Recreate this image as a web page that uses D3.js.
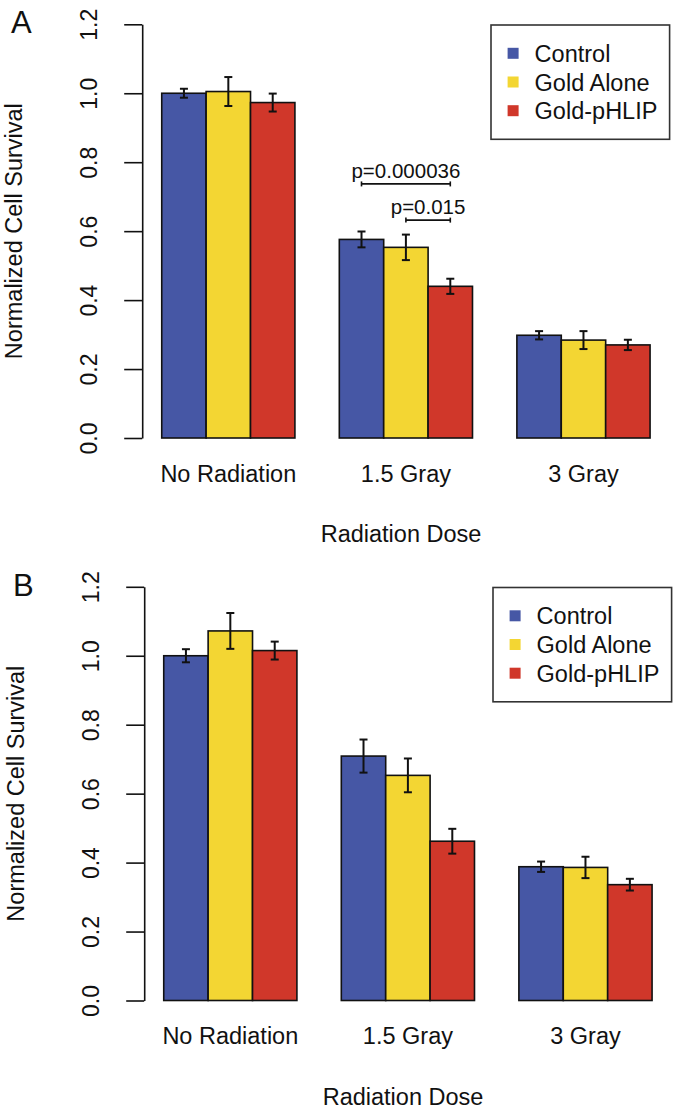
<!DOCTYPE html>
<html>
<head>
<meta charset="utf-8">
<script src="https://cdn.jsdelivr.net/npm/d3@7"></script>
<style>
  body { margin: 0; background: #fff; }
  svg text { font-family: "Liberation Sans", Arial, Helvetica, sans-serif; fill: #111; }
</style>
</head>
<body>
<div id="chart-area"></div>
<script>
// Data
const doses  = ["No Radiation", "1.5 Gray", "3 Gray"];
const series = ["Control", "Gold Alone", "Gold-pHLIP"];
const colors = ["#4657A5", "#F3D633", "#D0372A"];
const yTicks = [0.0, 0.2, 0.4, 0.6, 0.8, 1.0, 1.2];

// rows = dose, columns = series
const survivalA = [[1.000, 1.005, 0.973], [0.576, 0.553, 0.440], [0.298, 0.284, 0.270]];
const errorA    = [[0.013, 0.042, 0.026], [0.023, 0.037, 0.022], [0.012, 0.026, 0.015]];
const survivalB = [[1.000, 1.072, 1.015], [0.709, 0.653, 0.462], [0.388, 0.386, 0.336]];
const errorB    = [[0.019, 0.052, 0.026], [0.048, 0.049, 0.036], [0.015, 0.031, 0.017]];

// significance brackets (panel A only)
const bracketsA = [
    { dose: "1.5 Gray", from: 0, to: 2, y: 0.737, label: "p=0.000036" },
    { dose: "1.5 Gray", from: 1, to: 2, y: 0.632, label: "p=0.015" }
];

const svg = d3.select("#chart-area")
    .append("svg")
    .attr("width", 674)
    .attr("height", 1110);

/* Scales (shared by both panels) */
// bar units, R barplot style: groups of 3 bars with one bar of space in front
const xUnits = d3.scaleLinear().domain([0.56, 12.44]).range([142.2, 669.6]);
const x0 = d3.scaleBand()
    .domain(doses)
    .range([xUnits(1), xUnits(12)])
    .paddingInner(0.25)
    .paddingOuter(0);
const x1 = d3.scaleBand()
    .domain(d3.range(series.length))
    .range([0, x0.bandwidth()]);
const y = d3.scaleLinear().domain([0, 1.2]).range([438, 24.3]);

function drawPanel(letter, values, errors, brackets, dx, dy) {
    const g = svg.append("g").attr("transform", `translate(${dx},${dy})`);

    const rows = [];
    doses.forEach((d, i) => series.forEach((s, j) => {
        rows.push({ dose: d, s: j, v: values[i][j], e: errors[i][j] });
    }));

    /* Bars */
    g.append("g").selectAll("rect")
        .data(rows)
        .join("rect")
        .attr("x", d => x0(d.dose) + x1(d.s))
        .attr("y", d => y(d.v))
        .attr("width", x1.bandwidth())
        .attr("height", d => y(0) - y(d.v))
        .attr("fill", d => colors[d.s])
        .attr("stroke", "#111")
        .attr("stroke-width", 1.6);

    /* Error bars */
    const eb = g.append("g")
        .attr("stroke", "#111")
        .attr("stroke-width", 2)
        .selectAll("g")
        .data(rows)
        .join("g")
        .attr("transform", d => `translate(${x0(d.dose) + x1(d.s) + x1.bandwidth() / 2},0)`);
    eb.append("line")
        .attr("y1", d => y(d.v + d.e)).attr("y2", d => y(d.v - d.e));
    eb.append("line")
        .attr("x1", -4).attr("x2", 4)
        .attr("y1", d => y(d.v + d.e)).attr("y2", d => y(d.v + d.e));
    eb.append("line")
        .attr("x1", -4).attr("x2", 4)
        .attr("y1", d => y(d.v - d.e)).attr("y2", d => y(d.v - d.e));

    /* Y axis */
    const yAxis = g.append("g")
        .attr("transform", `translate(${xUnits.range()[0]},0)`)
        .call(d3.axisLeft(y).tickValues(yTicks).tickFormat(d3.format(".1f"))
            .tickSize(18).tickSizeOuter(0));
    yAxis.select(".domain").attr("stroke", "#111").attr("stroke-width", 1.6);
    yAxis.selectAll(".tick line").attr("stroke", "#111").attr("stroke-width", 1.6);
    yAxis.selectAll(".tick text")
        .attr("x", 0).attr("dy", 0)
        .attr("transform", "translate(-45,0) rotate(-90)")
        .attr("text-anchor", "middle")
        .attr("font-size", 23)
        .attr("font-family", "Liberation Sans, Arial, sans-serif")
        .attr("fill", "#111");

    /* Category labels */
    g.append("g").selectAll("text")
        .data(doses)
        .join("text")
        .attr("x", d => x0(d) + x0.bandwidth() / 2)
        .attr("y", 481.7)
        .attr("text-anchor", "middle")
        .attr("font-size", 23.5)
        .text(d => d);

    /* Axis titles */
    g.append("text")
        .attr("x", 401).attr("y", 542)
        .attr("text-anchor", "middle")
        .attr("font-size", 23.5)
        .text("Radiation Dose");
    g.append("text")
        .attr("transform", `translate(22,${y(0.6)}) rotate(-90)`)
        .attr("text-anchor", "middle")
        .attr("font-size", 23.5)
        .text("Normalized Cell Survival");

    /* Panel letter */
    g.append("text")
        .attr("x", 11).attr("y", 33)
        .attr("font-size", 31)
        .text(letter);

    /* Legend */
    const lgW = 178.6, lgH = 114.3;
    const lgX = xUnits.range()[1] - lgW, lgY = y(1.2) + 0.7;
    const lg = g.append("g").attr("transform", `translate(${lgX},${lgY})`);
    lg.append("rect")
        .attr("width", lgW).attr("height", lgH)
        .attr("fill", "#fff").attr("stroke", "#333").attr("stroke-width", 1.6);
    const item = lg.selectAll("g.item")
        .data(series)
        .join("g")
        .attr("class", "item")
        .attr("transform", (d, i) => `translate(0,${28.3 + i * 28.7})`);
    item.append("rect")
        .attr("x", 16.6).attr("y", -5.5)
        .attr("width", 11).attr("height", 11)
        .attr("fill", (d, i) => colors[i]);
    item.append("text")
        .attr("x", 43.6).attr("y", 8.5)
        .attr("font-size", 23.5)
        .text(d => d);

    /* Significance brackets */
    const br = g.append("g").selectAll("g")
        .data(brackets)
        .join("g");
    const cx = (d, k) => x0(d.dose) + x1(k) + x1.bandwidth() / 2;
    br.append("line")
        .attr("x1", d => cx(d, d.from)).attr("x2", d => cx(d, d.to))
        .attr("y1", d => y(d.y)).attr("y2", d => y(d.y))
        .attr("stroke", "#111").attr("stroke-width", 1.6);
    br.append("line")
        .attr("x1", d => cx(d, d.from)).attr("x2", d => cx(d, d.from))
        .attr("y1", d => y(d.y) - 2.5).attr("y2", d => y(d.y) + 2.5)
        .attr("stroke", "#111").attr("stroke-width", 1.6);
    br.append("line")
        .attr("x1", d => cx(d, d.to)).attr("x2", d => cx(d, d.to))
        .attr("y1", d => y(d.y) - 2.5).attr("y2", d => y(d.y) + 2.5)
        .attr("stroke", "#111").attr("stroke-width", 1.6);
    br.append("text")
        .attr("x", d => (cx(d, d.from) + cx(d, d.to)) / 2)
        .attr("y", d => y(d.y) - 6)
        .attr("text-anchor", "middle")
        .attr("font-size", 20.5)
        .text(d => d.label);
}

drawPanel("A", survivalA, errorA, bracketsA, 0, 0);
drawPanel("B", survivalB, errorB, [], 2, 562.5);
</script>
</body>
</html>
